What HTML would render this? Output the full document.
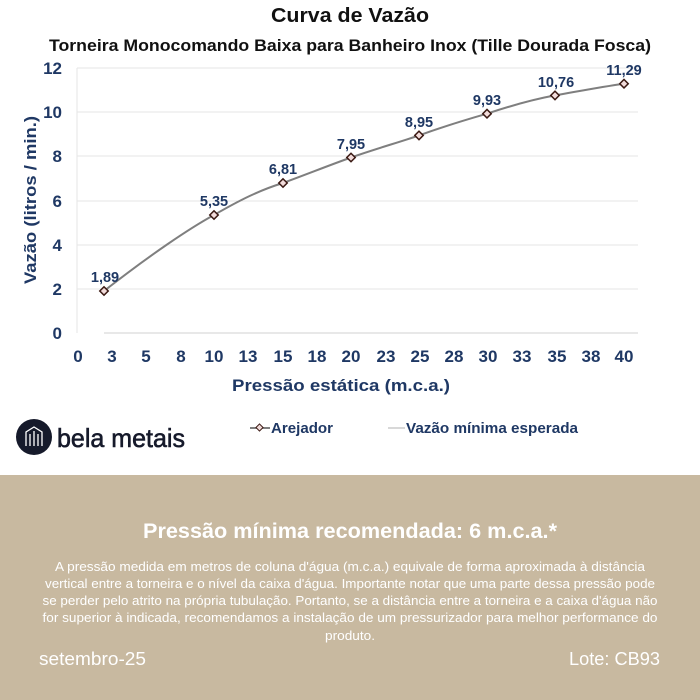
<!DOCTYPE html>
<html><head><meta charset="utf-8"><style>
body{margin:0;width:700px;height:700px;overflow:hidden;background:#fff;font-family:"Liberation Sans",sans-serif}
.band{position:absolute;left:0;top:475px;width:700px;height:225px;background:#c8b9a0}
</style></head><body>
<div class="band"></div>
<svg width="700" height="700" style="position:absolute;left:0;top:0" font-family="Liberation Sans, sans-serif">
<text x="350" y="22" text-anchor="middle" font-size="20" font-weight="bold" fill="#111" textLength="158" lengthAdjust="spacingAndGlyphs">Curva de Vazão</text>
<text x="350" y="51" text-anchor="middle" font-size="16.5" font-weight="bold" fill="#111" textLength="602" lengthAdjust="spacingAndGlyphs">Torneira Monocomando Baixa para Banheiro Inox (Tille Dourada Fosca)</text>
<g stroke="#e6e6e6" stroke-width="1">
<line x1="77" y1="68" x2="638" y2="68"/><line x1="77" y1="112" x2="638" y2="112"/><line x1="77" y1="156" x2="638" y2="156"/><line x1="77" y1="201" x2="638" y2="201"/><line x1="77" y1="245" x2="638" y2="245"/><line x1="77" y1="289" x2="638" y2="289"/>
<line x1="77" y1="68" x2="77" y2="333"/>
</g>
<line x1="104" y1="333" x2="638" y2="333" stroke="#d0d0d0"/>
<g font-size="17" font-weight="bold" fill="#1f3864" text-anchor="end">
<text x="62" y="74">12</text><text x="62" y="118">10</text><text x="62" y="162">8</text><text x="62" y="207">6</text><text x="62" y="251">4</text><text x="62" y="295">2</text><text x="62" y="339">0</text>
</g>
<g font-size="17" font-weight="bold" fill="#1f3864" text-anchor="middle">
<text x="78" y="362">0</text><text x="112" y="362">3</text><text x="146" y="362">5</text><text x="181" y="362">8</text><text x="214" y="362">10</text><text x="248" y="362">13</text><text x="283" y="362">15</text><text x="317" y="362">18</text><text x="351" y="362">20</text><text x="386" y="362">23</text><text x="420" y="362">25</text><text x="454" y="362">28</text><text x="488" y="362">30</text><text x="522" y="362">33</text><text x="557" y="362">35</text><text x="591" y="362">38</text><text x="624" y="362">40</text>
</g>
<text x="341" y="391" text-anchor="middle" font-size="17" font-weight="bold" fill="#1f3864" textLength="218" lengthAdjust="spacingAndGlyphs">Pressão estática (m.c.a.)</text>
<text transform="translate(36,200) rotate(-90)" text-anchor="middle" font-size="17" font-weight="bold" fill="#1f3864" textLength="168" lengthAdjust="spacingAndGlyphs">Vazão (litros / min.)</text>
<path d="M104,291 C150,255 190,228 214,215 C240,200 260,190 283,183 C310,173 330,165 351,157.5 C375,149 400,142 419,135.4 C445,126 465,120 487,113.7 C510,106 530,100 555,95.4 C580,91 600,87 624,83.7" fill="none" stroke="#7f7f7f" stroke-width="2"/>
<g fill="#f2dcdb" stroke="#3b1a14" stroke-width="1.5">
<rect x="101" y="288" width="6" height="6" transform="rotate(45 104 291)"/>
<rect x="211" y="212" width="6" height="6" transform="rotate(45 214 215)"/>
<rect x="280" y="180" width="6" height="6" transform="rotate(45 283 183)"/>
<rect x="348" y="154.5" width="6" height="6" transform="rotate(45 351 157.5)"/>
<rect x="416" y="132.4" width="6" height="6" transform="rotate(45 419 135.4)"/>
<rect x="484" y="110.7" width="6" height="6" transform="rotate(45 487 113.7)"/>
<rect x="552" y="92.4" width="6" height="6" transform="rotate(45 555 95.4)"/>
<rect x="621" y="80.7" width="6" height="6" transform="rotate(45 624 83.7)"/>
</g>
<g font-size="14.5" font-weight="bold" fill="#1f3864" text-anchor="middle">
<text x="105" y="282">1,89</text><text x="214" y="206">5,35</text><text x="283" y="174">6,81</text><text x="351" y="149">7,95</text><text x="419" y="127">8,95</text><text x="487" y="105">9,93</text><text x="556" y="87">10,76</text><text x="624" y="75">11,29</text>
</g>
<circle cx="34" cy="437" r="18" fill="#161a2b"/>
<path d="M26,446 V432 L34,427 L42,432 V446 M30,446 V434 M34,446 V431 M38,446 V434" fill="none" stroke="#fff" stroke-width="1.3"/>
<text x="57" y="447" font-size="26" fill="#161a2b" textLength="128" lengthAdjust="spacingAndGlyphs" stroke="#161a2b" stroke-width="0.6">bela metais</text>
<line x1="250" y1="428" x2="270" y2="428" stroke="#555" stroke-width="1.5"/>
<rect x="257" y="425" width="5" height="5" transform="rotate(45 259.5 427.5)" fill="#f2dcdb" stroke="#3b1a14"/>
<text x="271" y="433" font-size="15" font-weight="bold" fill="#1f3864" textLength="62" lengthAdjust="spacingAndGlyphs">Arejador</text>
<line x1="388" y1="428" x2="405" y2="428" stroke="#ccc" stroke-width="1.5"/>
<text x="406" y="433" font-size="15" font-weight="bold" fill="#1f3864" textLength="172" lengthAdjust="spacingAndGlyphs">Vazão mínima esperada</text>
<text x="350" y="538" text-anchor="middle" font-size="21" font-weight="bold" fill="#fff" textLength="414" lengthAdjust="spacingAndGlyphs">Pressão mínima recomendada: 6 m.c.a.*</text>
<g font-size="13" fill="#fff" text-anchor="middle">
<text x="350" y="571" textLength="590" lengthAdjust="spacingAndGlyphs">A pressão medida em metros de coluna d'água (m.c.a.) equivale de forma aproximada à distância</text>
<text x="350" y="588" textLength="610" lengthAdjust="spacingAndGlyphs">vertical entre a torneira e o nível da caixa d'água. Importante notar que uma parte dessa pressão pode</text>
<text x="350" y="605" textLength="615" lengthAdjust="spacingAndGlyphs">se perder pelo atrito na própria tubulação. Portanto, se a distância entre a torneira e a caixa d'água não</text>
<text x="350" y="622" textLength="615" lengthAdjust="spacingAndGlyphs">for superior à indicada, recomendamos a instalação de um pressurizador para melhor performance do</text>
<text x="350" y="640" textLength="50" lengthAdjust="spacingAndGlyphs">produto.</text>
</g>
<text x="39" y="665" font-size="18" fill="#fff" textLength="107" lengthAdjust="spacingAndGlyphs">setembro-25</text>
<text x="660" y="665" text-anchor="end" font-size="18" fill="#fff" textLength="91" lengthAdjust="spacingAndGlyphs">Lote: CB93</text>
</svg>
</body></html>
